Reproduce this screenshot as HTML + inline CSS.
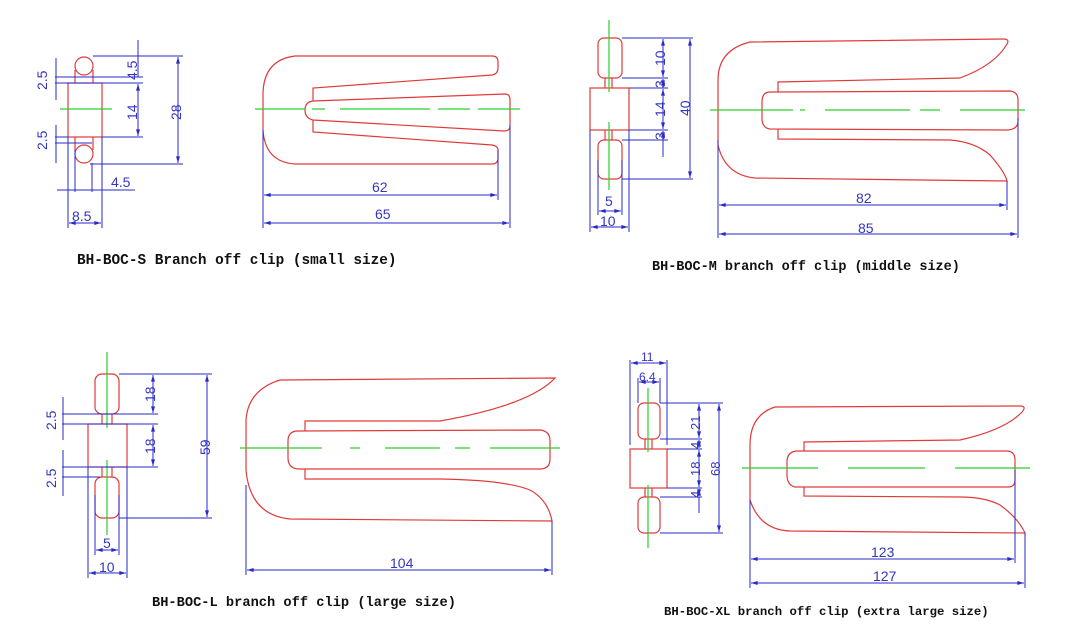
<!DOCTYPE html>
<html><head><meta charset="utf-8"><style>
html,body{margin:0;padding:0;background:#fff;}
svg{display:block}
.r{fill:none;stroke:#e03a3a;stroke-width:1.2}
.g{stroke:#2ad02a;stroke-width:1.2;fill:none}
.b{stroke:#2a2ac8;stroke-width:1;fill:none}
.a{stroke:#2a2ac8;stroke-width:1;fill:none;marker-start:url(#ar);marker-end:url(#ar)}
.t{font-family:"Liberation Sans",sans-serif;font-size:14px;fill:#3535c0}
.c{font-family:"Liberation Mono",monospace;font-weight:bold;fill:#111}
</style></head><body>
<svg width="1065" height="634" viewBox="0 0 1065 634" xmlns="http://www.w3.org/2000/svg">
<defs><marker id="ar" viewBox="0 0 10 6" refX="10" refY="3" markerWidth="8" markerHeight="4" orient="auto-start-reverse" markerUnits="userSpaceOnUse"><path d="M0 0L10 3L0 6z" fill="#2a2ac8"/></marker></defs>

<!-- ===== S ===== -->
<circle class="r" cx="84" cy="66" r="9"/>
<line class="r" x1="75" y1="70" x2="75" y2="83"/><line class="r" x1="93" y1="70" x2="93" y2="83"/>
<rect class="r" x="68" y="83" width="34" height="54"/>
<line class="r" x1="75" y1="137" x2="75" y2="150"/><line class="r" x1="93" y1="137" x2="93" y2="150"/>
<circle class="r" cx="84" cy="154" r="9"/>
<line class="g" x1="60" y1="109" x2="112" y2="109"/>
<line class="b" x1="93" y1="56" x2="183" y2="56"/><line class="b" x1="90" y1="164" x2="183" y2="164"/>
<line class="a" x1="178" y1="57" x2="178" y2="163"/>
<line class="b" x1="55" y1="77" x2="143" y2="77"/><line class="b" x1="55" y1="83" x2="143" y2="83"/>
<line class="b" x1="102" y1="137" x2="143" y2="137"/><line class="b" x1="55" y1="143" x2="92" y2="143"/><line class="b" x1="55" y1="137" x2="68" y2="137"/>
<line class="b" x1="138" y1="40" x2="138" y2="77"/>
<line class="a" x1="138" y1="84" x2="138" y2="136"/>
<line class="b" x1="56" y1="58" x2="56" y2="100"/><line class="b" x1="56" y1="125" x2="56" y2="163"/>
<text class="t" transform="translate(47,90) rotate(-90)">2.5</text>
<text class="t" transform="translate(47,150) rotate(-90)">2.5</text>
<text class="t" transform="translate(137,80) rotate(-90)">4.5</text>
<text class="t" transform="translate(137,120) rotate(-90)">14</text>
<text class="t" transform="translate(181,120) rotate(-90)">28</text>
<line class="b" x1="68" y1="137" x2="68" y2="228"/><line class="b" x1="75" y1="150" x2="75" y2="192"/><line class="b" x1="92" y1="163" x2="92" y2="192"/><line class="b" x1="102" y1="137" x2="102" y2="228"/>
<line class="b" x1="57" y1="190" x2="135" y2="190"/>
<text class="t" x="111" y="187">4.5</text>
<line class="a" x1="69" y1="223" x2="101" y2="223"/>
<text class="t" x="72" y="221">8.5</text>
<path class="r" d="M313 101 L313 88 L492 75 Q498 74 498 68 L498 62 Q498 56 492 56 L295 56 Q263 60 263 95 L263 130 Q265 162 295 164 L492 164 Q498 164 498 158 L498 150 Q498 146 492 145 L313 132 L313 120"/>
<path class="r" d="M313 101 L505 94 Q510 94 510 100 L510 126 Q510 131 504 131 L313 120 Q305 118 305 110 Q305 102 313 101 Z"/>
<path class="g" d="M255 109 H305 M312 109 H325 M340 109 H430 M438 109 H470 M478 109 H520" />
<line class="b" x1="263" y1="130" x2="263" y2="228"/><line class="b" x1="498" y1="150" x2="498" y2="200"/><line class="b" x1="510" y1="125" x2="510" y2="228"/>
<line class="a" x1="264" y1="195" x2="497" y2="195"/>
<text class="t" x="372" y="192">62</text>
<line class="a" x1="264" y1="223" x2="509" y2="223"/>
<text class="t" x="375" y="219">65</text>
<text class="c" x="77" y="264" style="font-size:14.4px">BH-BOC-S Branch off clip (small size)</text>

<!-- ===== M ===== -->
<rect class="r" x="598" y="38" width="24" height="40" rx="6"/>
<line class="r" x1="605" y1="78" x2="605" y2="88"/><line class="r" x1="612" y1="78" x2="612" y2="88"/>
<rect class="r" x="590" y="88" width="39" height="42"/>
<line class="r" x1="605" y1="130" x2="605" y2="140"/><line class="r" x1="612" y1="130" x2="612" y2="140"/>
<rect class="r" x="598" y="140" width="24" height="39" rx="6"/>
<path class="g" d="M609 20 V92 M609 122 V190"/>
<line class="b" x1="622" y1="38" x2="693" y2="38"/><line class="b" x1="622" y1="78" x2="668" y2="78"/><line class="b" x1="629" y1="88" x2="668" y2="88"/><line class="b" x1="629" y1="130" x2="668" y2="130"/><line class="b" x1="622" y1="140" x2="668" y2="140"/><line class="b" x1="622" y1="179" x2="693" y2="179"/>
<line class="a" x1="663" y1="39" x2="663" y2="77"/><line class="a" x1="663" y1="79" x2="663" y2="87"/><line class="a" x1="663" y1="89" x2="663" y2="129"/><line class="a" x1="663" y1="131" x2="663" y2="139"/><line class="b" x1="663" y1="140" x2="663" y2="157"/>
<line class="a" x1="690" y1="39" x2="690" y2="178"/>
<text class="t" transform="translate(665,66) rotate(-90)">10</text>
<text class="t" transform="translate(665,88) rotate(-90)">3</text>
<text class="t" transform="translate(665,117) rotate(-90)">14</text>
<text class="t" transform="translate(665,140) rotate(-90)">3</text>
<text class="t" transform="translate(690,116) rotate(-90)">40</text>
<line class="b" x1="598" y1="160" x2="598" y2="215"/><line class="b" x1="622" y1="160" x2="622" y2="215"/><line class="b" x1="590" y1="130" x2="590" y2="232"/><line class="b" x1="629" y1="130" x2="629" y2="232"/>
<line class="a" x1="599" y1="211" x2="621" y2="211"/>
<text class="t" x="605" y="206">5</text>
<line class="a" x1="591" y1="227" x2="628" y2="227"/>
<text class="t" x="600" y="226">10</text>
<path class="r" d="M778 92 L778 82 L960 78 Q995 65 1007 44 Q1010 39 1003 39 L750 42 Q718 50 718 80 L718 145 Q725 175 755 178 L1007 181 Q1005 172 990 155 Q975 142 950 140 L778 139 L778 129"/>
<path class="r" d="M778 92 L1010 91 Q1018 92 1018 100 L1018 121 Q1018 129 1008 130 L770 129 Q762 128 762 118 L762 102 Q762 92 770 92 Z"/>
<path class="g" d="M710 110 H793 M800 110 H805 M825 110 H910 M920 110 H940 M960 110 H1025"/>
<line class="b" x1="718" y1="140" x2="718" y2="238"/><line class="b" x1="1007" y1="181" x2="1007" y2="210"/><line class="b" x1="1018" y1="118" x2="1018" y2="238"/>
<line class="a" x1="719" y1="205" x2="1006" y2="205"/>
<text class="t" x="856" y="203">82</text>
<line class="a" x1="719" y1="234" x2="1017" y2="234"/>
<text class="t" x="858" y="233">85</text>
<text class="c" x="652" y="270" style="font-size:13.5px">BH-BOC-M branch off clip (middle size)</text>

<!-- ===== L ===== -->
<rect class="r" x="95" y="374" width="24" height="40" rx="7"/>
<line class="r" x1="102" y1="414" x2="102" y2="424"/><line class="r" x1="112" y1="414" x2="112" y2="424"/>
<rect class="r" x="88" y="424" width="39" height="43"/>
<line class="r" x1="102" y1="467" x2="102" y2="477"/><line class="r" x1="112" y1="467" x2="112" y2="477"/>
<rect class="r" x="95" y="477" width="24" height="41" rx="7"/>
<path class="g" d="M107 352 V428 M107 460 V535"/>
<line class="b" x1="119" y1="374" x2="212" y2="374"/><line class="b" x1="119" y1="518" x2="212" y2="518"/>
<line class="b" x1="62" y1="414" x2="158" y2="414"/><line class="b" x1="62" y1="424" x2="158" y2="424"/><line class="b" x1="62" y1="467" x2="158" y2="467"/><line class="b" x1="62" y1="477" x2="100" y2="477"/>
<line class="a" x1="153" y1="375" x2="153" y2="413"/><line class="a" x1="153" y1="425" x2="153" y2="466"/>
<line class="a" x1="207" y1="375" x2="207" y2="517"/>
<line class="b" x1="63" y1="397" x2="63" y2="440"/><line class="b" x1="63" y1="450" x2="63" y2="496"/>
<text class="t" transform="translate(56,430) rotate(-90)">2.5</text>
<text class="t" transform="translate(56,488) rotate(-90)">2.5</text>
<text class="t" transform="translate(155,402) rotate(-90)">18</text>
<text class="t" transform="translate(155,454) rotate(-90)">18</text>
<text class="t" transform="translate(210,455) rotate(-90)">59</text>
<line class="b" x1="95" y1="495" x2="95" y2="555"/><line class="b" x1="119" y1="495" x2="119" y2="555"/><line class="b" x1="88" y1="467" x2="88" y2="578"/><line class="b" x1="127" y1="467" x2="127" y2="578"/>
<line class="a" x1="96" y1="550" x2="118" y2="550"/>
<text class="t" x="103" y="548">5</text>
<line class="a" x1="89" y1="573" x2="126" y2="573"/>
<text class="t" x="99" y="572">10</text>
<path class="r" d="M305 431 L305 421 L440 421 Q530 405 555 378 L280 380 Q248 390 246 420 L246 470 Q250 515 290 519 L552 521 Q548 500 530 490 Q505 480 440 479 L305 479 L305 469"/>
<path class="r" d="M298 431 L540 430 Q550 431 550 441 L550 459 Q550 469 540 469 L298 469 Q288 468 288 458 L288 441 Q288 431 298 431 Z"/>
<path class="g" d="M240 448 H322 M350 448 H360 M385 448 H440 M455 448 H470 M490 448 H560"/>
<line class="b" x1="246" y1="485" x2="246" y2="575"/><line class="b" x1="552" y1="521" x2="552" y2="575"/>
<line class="a" x1="247" y1="570" x2="551" y2="570"/>
<text class="t" x="390" y="568">104</text>
<text class="c" x="152" y="606" style="font-size:13.7px">BH-BOC-L branch off clip (large size)</text>

<!-- ===== XL ===== -->
<rect class="r" x="638" y="403" width="22" height="36" rx="6"/>
<line class="r" x1="645" y1="439" x2="645" y2="449"/><line class="r" x1="652" y1="439" x2="652" y2="449"/>
<rect class="r" x="630" y="449" width="37" height="39"/>
<line class="r" x1="645" y1="488" x2="645" y2="497"/><line class="r" x1="652" y1="488" x2="652" y2="497"/>
<rect class="r" x="638" y="497" width="22" height="36" rx="6"/>
<path class="g" d="M648 388 V452 M648 485 V548"/>
<line class="b" x1="630" y1="360" x2="630" y2="445"/><line class="b" x1="667" y1="360" x2="667" y2="445"/>
<line class="a" x1="631" y1="363" x2="666" y2="363"/>
<text class="t" x="641" y="361" style="font-size:12px">11</text>
<line class="b" x1="638" y1="378" x2="638" y2="403"/><line class="b" x1="660" y1="378" x2="660" y2="403"/>
<line class="a" x1="639" y1="382" x2="659" y2="382"/>
<text class="t" x="639" y="381" style="font-size:12px">6.4</text>
<line class="b" x1="660" y1="403" x2="723" y2="403"/><line class="b" x1="660" y1="439" x2="702" y2="439"/><line class="b" x1="667" y1="449" x2="702" y2="449"/><line class="b" x1="667" y1="488" x2="702" y2="488"/><line class="b" x1="660" y1="497" x2="702" y2="497"/><line class="b" x1="660" y1="533" x2="723" y2="533"/>
<line class="a" x1="699" y1="404" x2="699" y2="438"/><line class="a" x1="699" y1="440" x2="699" y2="448"/><line class="a" x1="699" y1="450" x2="699" y2="487"/><line class="a" x1="699" y1="489" x2="699" y2="496"/><line class="b" x1="699" y1="497" x2="699" y2="513"/>
<line class="a" x1="719" y1="404" x2="719" y2="532"/>
<text class="t" transform="translate(700,430) rotate(-90)" style="font-size:13px">21</text>
<text class="t" transform="translate(700,449) rotate(-90)" style="font-size:13px">4</text>
<text class="t" transform="translate(700,476) rotate(-90)" style="font-size:13px">18</text>
<text class="t" transform="translate(700,498) rotate(-90)" style="font-size:13px">4</text>
<text class="t" transform="translate(720,476) rotate(-90)" style="font-size:13px">68</text>
<path class="r" d="M804 451 L804 442 L960 440 Q1005 430 1022 412 Q1027 406 1020 406 L775 407 Q750 415 750 445 L750 500 Q760 530 790 531 L1025 533 Q1018 518 1000 505 Q985 497 960 497 L804 496 L804 487"/>
<path class="r" d="M798 451 L1008 451 Q1015 452 1015 460 L1015 480 Q1015 487 1008 487 L795 487 Q787 485 787 475 L787 462 Q787 451 798 451 Z"/>
<path class="g" d="M742 468 H818 M848 468 H925 M955 468 H1030"/>
<line class="b" x1="750" y1="500" x2="750" y2="588"/><line class="b" x1="1015" y1="470" x2="1015" y2="563"/><line class="b" x1="1025" y1="533" x2="1025" y2="588"/>
<line class="a" x1="751" y1="559" x2="1014" y2="559"/>
<text class="t" x="871" y="557">123</text>
<line class="a" x1="751" y1="583" x2="1024" y2="583"/>
<text class="t" x="873" y="581">127</text>
<text class="c" x="664" y="615" style="font-size:12.3px">BH-BOC-XL branch off clip (extra large size)</text>
</svg>
</body></html>
